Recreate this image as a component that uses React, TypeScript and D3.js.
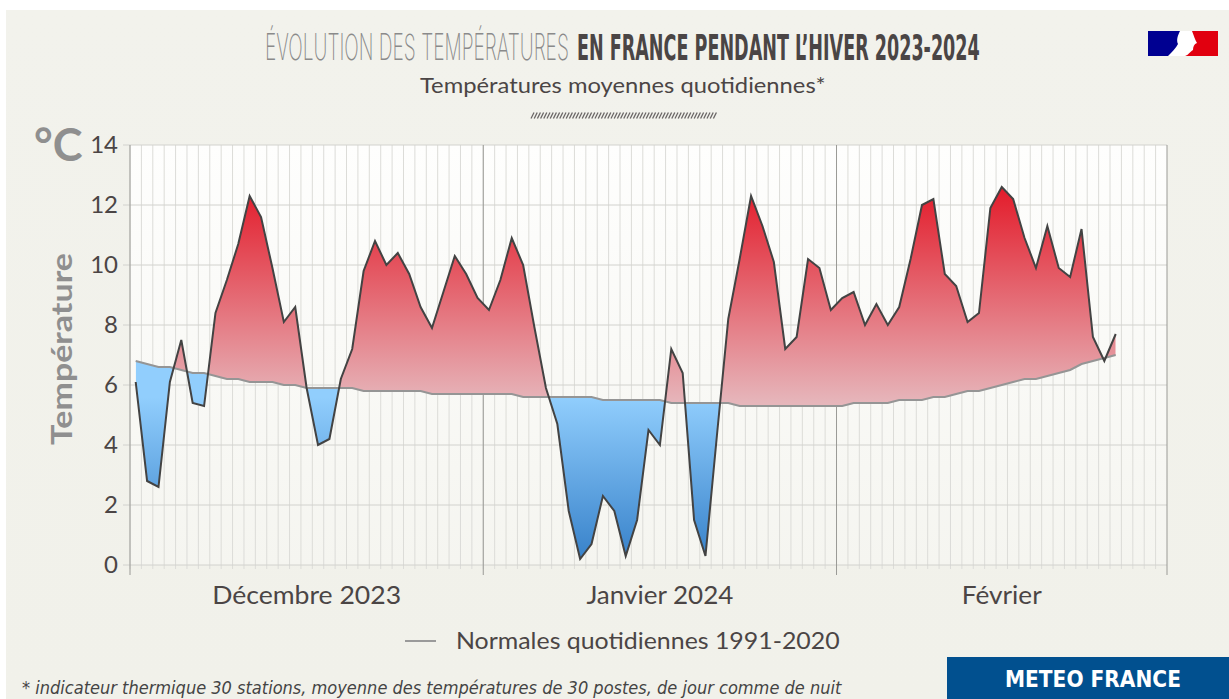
import React, { useLayoutEffect, useRef, useState } from 'react';
import * as d3 from 'd3';

const W = 1229;
const H = 699;

// daily mean temperature (°C), 1 Dec 2023 -> 25 Feb 2024
const decTemps = [6.1, 2.8, 2.6, 6.1, 7.5, 5.4, 5.3, 8.4, 9.5, 10.7, 12.3, 11.6, 9.9, 8.1, 8.6, 5.9, 4.0, 4.2, 6.2, 7.2, 9.8, 10.8, 10.0, 10.4, 9.7, 8.6, 7.9, 9.1, 10.3, 9.7, 8.9];
const janTemps = [8.5, 9.5, 10.9, 10.0, 7.9, 5.9, 4.7, 1.8, 0.2, 0.7, 2.3, 1.8, 0.3, 1.5, 4.5, 4.0, 7.2, 6.4, 1.5, 0.3, 4.3, 8.2, 10.2, 12.3, 11.3, 10.1, 7.2, 7.6, 10.2, 9.9, 8.5];
const febTemps = [8.9, 9.1, 8.0, 8.7, 8.0, 8.6, 10.2, 12.0, 12.2, 9.7, 9.3, 8.1, 8.4, 11.9, 12.6, 12.2, 10.9, 9.9, 11.3, 9.9, 9.6, 11.2, 7.6, 6.8, 7.7];

// normales quotidiennes 1991-2020
const decNormals = [6.8, 6.7, 6.6, 6.6, 6.5, 6.4, 6.4, 6.3, 6.2, 6.2, 6.1, 6.1, 6.1, 6.0, 6.0, 5.9, 5.9, 5.9, 5.9, 5.9, 5.8, 5.8, 5.8, 5.8, 5.8, 5.8, 5.7, 5.7, 5.7, 5.7, 5.7];
const janNormals = [5.7, 5.7, 5.7, 5.6, 5.6, 5.6, 5.6, 5.6, 5.6, 5.6, 5.5, 5.5, 5.5, 5.5, 5.5, 5.5, 5.4, 5.4, 5.4, 5.4, 5.4, 5.4, 5.3, 5.3, 5.3, 5.3, 5.3, 5.3, 5.3, 5.3, 5.3];
const febNormals = [5.3, 5.4, 5.4, 5.4, 5.4, 5.5, 5.5, 5.5, 5.6, 5.6, 5.7, 5.8, 5.8, 5.9, 6.0, 6.1, 6.2, 6.2, 6.3, 6.4, 6.5, 6.7, 6.8, 6.9, 7.0];

const months = ['Décembre 2023', 'Janvier 2024', 'Février'];
const yTicks = [0, 2, 4, 6, 8, 10, 12, 14];

const temps = [...decTemps, ...janTemps, ...febTemps];
const normals = [...decNormals, ...janNormals, ...febNormals];
const start = new Date(2023, 11, 1);
const end = new Date(2024, 2, 1);
const data = temps.map((t, i) => ({
  date: d3.timeHour.offset(d3.timeDay.offset(start, i), 12),
  t,
  n: normals[i],
}));

const left = 130, right = 1167, top = 145, bottom = 565;

// text squeezed horizontally to a given width
function FitText({ x, y, width, children, ...rest }: any) {
  const ref = useRef<SVGTextElement>(null);
  const [sx, setSx] = useState(1);
  useLayoutEffect(() => {
    if (ref.current) {
      const len = ref.current.getComputedTextLength();
      if (len > 0) setSx(width / len);
    }
  }, [width, children]);
  return (
    <text ref={ref} transform={`translate(${x},${y}) scale(${sx},1)`} {...rest}>{children}</text>
  );
}

export default function App() {
  const x = d3.scaleTime().domain([start, end]).range([left, right]);
  const y = d3.scaleLinear().domain([0, 14]).range([bottom, top]);

  const days = d3.timeDay.range(start, end);
  const monthStarts = d3.timeMonth.range(start, end);
  const monthBounds = [...monthStarts, end];

  const tempArea = d3.area<any>().x(d => x(d.date)).y0(d => y(d.n)).y1(d => y(d.t));
  const aboveClip = d3.area<any>().x(d => x(d.date)).y0(d => y(d.n)).y1(0);
  const belowClip = d3.area<any>().x(d => x(d.date)).y0(d => y(d.n)).y1(H);
  const tLine = d3.line<any>().x(d => x(d.date)).y(d => y(d.t));
  const nLine = d3.line<any>().x(d => x(d.date)).y(d => y(d.n));

  const txt = '#4b4545';
  const sans = 'Lato, "Open Sans", sans-serif';
  const narrow = '"Liberation Sans Narrow", "DejaVu Sans Condensed", sans-serif';

  const hatch = d3.range(531, 714, 3.2);
  const monthWidths = [189, 147, 80];

  return (
    <svg width={W} height={H} style={{ position: 'absolute', left: 0, top: 0 }}>
      <defs>
        <linearGradient id="bg" x1="0" y1="0" x2="0" y2="1">
          <stop offset="0" stopColor="#f2f2ec" />
          <stop offset="1" stopColor="#f1f1ea" />
        </linearGradient>
        <linearGradient id="plotbg" x1="0" y1="0" x2="0" y2="1">
          <stop offset="0" stopColor="#fefefd" />
          <stop offset="1" stopColor="#f5f5f0" />
        </linearGradient>
        <linearGradient id="red" gradientUnits="userSpaceOnUse" x1="0" y1={y(12.6)} x2="0" y2={y(5.4)}>
          <stop offset="0" stopColor="#e31b2a" />
          <stop offset="1" stopColor="#e6b6bb" />
        </linearGradient>
        <linearGradient id="blue" gradientUnits="userSpaceOnUse" x1="0" y1={y(5.6)} x2="0" y2={y(0.2)}>
          <stop offset="0" stopColor="#91cefd" />
          <stop offset="1" stopColor="#3882ca" />
        </linearGradient>
        <clipPath id="above"><path d={aboveClip(data) as string} /></clipPath>
        <clipPath id="below"><path d={belowClip(data) as string} /></clipPath>
      </defs>

      <rect x={0} y={0} width={W} height={H} fill="#ffffff" />
      <rect x={6} y={10} width={W - 6} height={H - 10} fill="url(#bg)" />
      <rect x={left} y={top} width={right - left} height={bottom - top} fill="url(#plotbg)" />

      {/* day grid */}
      {days.map((d, i) => (
        <line key={'d' + i} x1={x(d)} x2={x(d)} y1={top} y2={bottom + 4} stroke="#dcdcd8" strokeWidth={1} />
      ))}
      {/* horizontal grid */}
      {yTicks.map(v => (
        <line key={'h' + v} x1={left - 7} x2={right} y1={y(v)} y2={y(v)} stroke="#d2d2ce" strokeWidth={1} />
      ))}
      {/* month dividers */}
      {monthBounds.map((d, i) => (
        <line key={'m' + i} x1={x(d)} x2={x(d)} y1={top} y2={bottom + 10} stroke="#9a9a96" strokeWidth={1} />
      ))}

      {/* areas */}
      <path d={tempArea(data) as string} fill="url(#red)" clipPath="url(#above)" />
      <path d={tempArea(data) as string} fill="url(#blue)" clipPath="url(#below)" />
      <path d={nLine(data) as string} fill="none" stroke="#959595" strokeWidth={2} />
      <path d={tLine(data) as string} fill="none" stroke="#434343" strokeWidth={2} strokeLinejoin="miter" />

      {/* y ticks */}
      {yTicks.map(v => (
        <text key={'t' + v} x={118} y={y(v) + 8} textAnchor="end" fontFamily={sans} fontSize={24} fill={txt}>{v}</text>
      ))}
      <text x={34} y={161} fontFamily={sans} fontWeight={700} fontSize={45} fill="#8f8f8f">°C</text>
      <text transform={`translate(72,349) rotate(-90)`} textAnchor="middle" fontFamily={sans} fontWeight={700} fontSize={28} fill="#8f8f8f" textLength={192} lengthAdjust="spacingAndGlyphs">Température</text>

      {/* month labels */}
      {monthStarts.map((d, i) => (
        <FitText key={'ml' + i} x={(x(d) + x(monthBounds[i + 1])) / 2 - monthWidths[i] / 2} y={604} width={monthWidths[i]} fontFamily={sans} fontSize={25} fill={txt}>{months[i]}</FitText>
      ))}

      {/* title */}
      <FitText x={265} y={60} width={304} fontFamily='Inter, "Open Sans", sans-serif' fontWeight={200} fontSize={36} fill="#8a8a8a">ÉVOLUTION DES TEMPÉRATURES</FitText>
      <FitText x={577} y={60} width={403} fontFamily={narrow} fontWeight={700} fontSize={36} fill="#4a4545">EN FRANCE PENDANT L’HIVER 2023-2024</FitText>
      <FitText x={420} y={93} width={406} fontFamily={sans} fontSize={21} fill={txt}>Températures moyennes quotidiennes*</FitText>
      {hatch.map((hx, i) => (
        <line key={'hz' + i} x1={hx} x2={hx + 3} y1={118.5} y2={112.5} stroke="#6a6666" strokeWidth={1.3} />
      ))}

      {/* flag */}
      <rect x={1148} y={31} width={34} height={25} fill="#000091" />
      <rect x={1182} y={31} width={36} height={25} fill="#e1000f" />
      <path d="M1180,31 L1192,31 C1194,36 1195,40 1197,43 C1194,44 1193,47 1193,50 C1190,52 1187,56 1185,56 L1168,56 C1172,52 1176,48 1178,44 C1176,40 1178,35 1180,31 Z" fill="#ffffff" />

      {/* legend */}
      <line x1={405} x2={436} y1={641} y2={641} stroke="#9a9a9a" strokeWidth={2} />
      <FitText x={456} y={649} width={384} fontFamily={sans} fontSize={24} fill={txt}>Normales quotidiennes 1991-2020</FitText>

      {/* footnote */}
      <FitText x={22} y={694} width={820} fontFamily={narrow} fontStyle="italic" fontSize={18} fill="#444">* indicateur thermique 30 stations, moyenne des températures de 30 postes, de jour comme de nuit</FitText>

      {/* brand */}
      <rect x={947} y={657} width={W - 947} height={H - 657} fill="#01508f" />
      <FitText x={1005} y={687} width={176} fontFamily={narrow} fontWeight={700} fontSize={23} fill="#ffffff">METEO FRANCE</FitText>
    </svg>
  );
}
